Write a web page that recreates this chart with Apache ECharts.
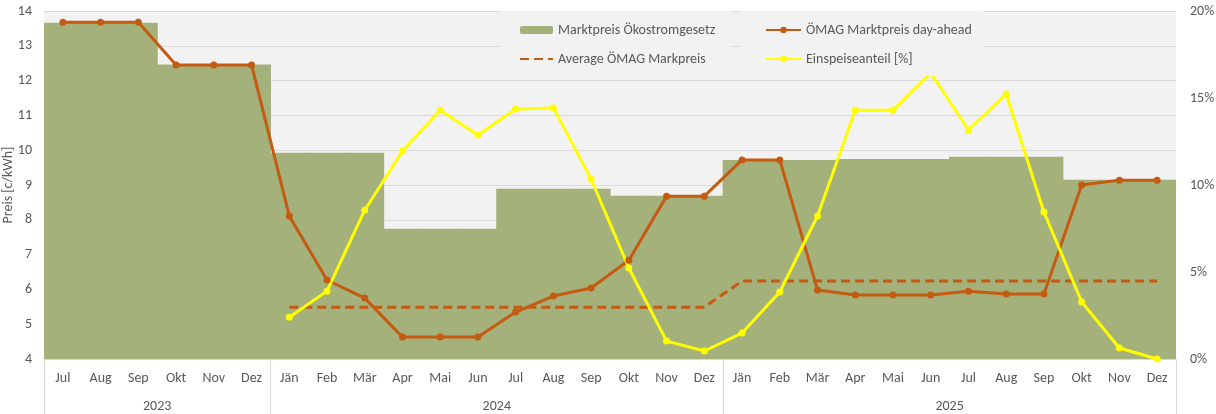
<!DOCTYPE html>
<html>
<head>
<meta charset="utf-8">
<script src="https://cdn.jsdelivr.net/npm/echarts@6/dist/echarts.min.js"></script>
<style>
    html, body {margin: 0; padding: 0; background: #fff;}
    #echarts {width: 1216px; height: 414px;}
</style>
</head>
<body>
<div id="echarts"></div>
<script>
// months Jul 2023 .. Dez 2025
var months = ['Jul','Aug','Sep','Okt','Nov','Dez',
    'Jän','Feb','Mär','Apr','Mai','Jun','Jul','Aug','Sep','Okt','Nov','Dez',
    'Jän','Feb','Mär','Apr','Mai','Jun','Jul','Aug','Sep','Okt','Nov','Dez'];
var years = ['2023', '2024', '2025'];
var yearMonths = [6, 12, 12];

// Marktpreis Ökostromgesetz (quartalsweise)
var marktpreisOeSG = [13.66, 13.66, 13.66, 12.46, 12.46, 12.46,
    9.93, 9.93, 9.93, 7.74, 7.74, 7.74, 8.89, 8.89, 8.89, 8.69, 8.69, 8.69,
    9.72, 9.72, 9.72, 9.75, 9.75, 9.75, 9.81, 9.81, 9.81, 9.15, 9.15, 9.15];

// ÖMAG Marktpreis day-ahead
var oemagDayAhead = [13.68, 13.68, 13.68, 12.45, 12.45, 12.45,
    8.11, 6.27, 5.75, 4.63, 4.63, 4.63, 5.35, 5.81, 6.04, 6.84, 8.68, 8.68,
    9.72, 9.72, 5.98, 5.84, 5.84, 5.84, 5.95, 5.87, 5.87, 9.0, 9.14, 9.14];

// Average ÖMAG Markpreis
var oemagAverage = ['-', '-', '-', '-', '-', '-',
    5.49, 5.49, 5.49, 5.49, 5.49, 5.49, 5.49, 5.49, 5.49, 5.49, 5.49, 5.49,
    6.24, 6.24, 6.24, 6.24, 6.24, 6.24, 6.24, 6.24, 6.24, 6.24, 6.24, 6.24];

// Einspeiseanteil [%]
var einspeiseanteil = ['-', '-', '-', '-', '-', '-',
    2.4, 3.9, 8.55, 11.95, 14.3, 12.87, 14.37, 14.43, 10.34, 5.23, 1.03, 0.46,
    1.49, 3.85, 8.22, 14.3, 14.3, 16.45, 13.16, 15.23, 8.45, 3.28, 0.63, 0];

var leftTicks = [4, 14, 1];
var rightTicks = [0, 20, 5];

// half-month slots for the year row: labels sit in the middle of each year
var halfSlots = [];
var yearLabelAt = {};
var yearBorderAt = {0: true};
var pos = 0;
for (var i = 0; i <= 60; i++) {
    halfSlots.push('h' + i);
}
years.forEach(function (y, k) {
    yearLabelAt[pos + yearMonths[k]] = y;
    pos += yearMonths[k] * 2;
    yearBorderAt[pos] = true;
});

var fontFam = 'Carlito, Calibri, "Open Sans", sans-serif';
var textGrey = '#595959';
var orange = '#C55A11';
var green = '#A4B17A';
var fs = 14;

var myChart = echarts.init(document.getElementById('echarts'));
var option = {
    backgroundColor: '#fff',
    textStyle: {fontFamily: fontFam, color: textGrey},
    animation: false,
    grid: {
        left: 44,
        right: 40,
        top: 11,
        bottom: 55,
        outerBoundsMode: 'none',
        containLabel: false,
        show: true,
        backgroundColor: '#F2F2F2',
        borderWidth: 0
    },
    legend: [
        {
            orient: 'vertical',
            left: 500,
            top: 11,
            padding: [12, 16, 10, 19],
            itemGap: 15,
            itemWidth: 33,
            itemHeight: 8,
            backgroundColor: '#F2F2F2',
            textStyle: {fontFamily: fontFam, fontSize: fs, color: textGrey},
            data: [
                'Marktpreis Ökostromgesetz',
                {name: 'Average ÖMAG Markpreis', itemStyle: {opacity: 0}}
            ]
        },
        {
            orient: 'vertical',
            left: 740,
            top: 11,
            padding: [12, 12, 10, 25],
            itemGap: 15,
            itemWidth: 35,
            itemHeight: 8,
            backgroundColor: '#F2F2F2',
            textStyle: {fontFamily: fontFam, fontSize: fs, color: textGrey},
            data: ['ÖMAG Marktpreis day-ahead', 'Einspeiseanteil [%]']
        }
    ],
    xAxis: [
        {
            type: 'category',
            data: months,
            boundaryGap: true,
            axisLine: {show: true, lineStyle: {color: '#D9D9D9', width: 1}},
            axisTick: {show: false},
            splitLine: {show: false},
            axisLabel: {color: textGrey, fontSize: fs, margin: 12, interval: 0}
        },
        {
            type: 'category',
            data: halfSlots,
            boundaryGap: false,
            position: 'bottom',
            axisLine: {show: false},
            splitLine: {show: false},
            axisTick: {
                show: true,
                length: 56,
                interval: function (index) { return !!yearBorderAt[index]; },
                lineStyle: {color: '#D9D9D9', width: 1}
            },
            axisLabel: {
                color: textGrey,
                fontSize: fs,
                margin: 40,
                interval: function (index) { return yearLabelAt[index] !== undefined; },
                formatter: function (v, index) { return yearLabelAt[index] || ''; }
            }
        }
    ],
    yAxis: [
        {
            type: 'value',
            min: leftTicks[0],
            max: leftTicks[1],
            interval: leftTicks[2],
            name: 'Preis [c/kWh]',
            nameLocation: 'middle',
            nameGap: 29,
            nameMoveOverlap: false,
            nameTextStyle: {color: textGrey, fontSize: fs, fontFamily: fontFam},
            axisLine: {show: false},
            axisTick: {show: false},
            axisLabel: {color: textGrey, fontSize: fs, margin: 12},
            splitLine: {lineStyle: {color: '#D9D9D9', width: 1}}
        },
        {
            type: 'value',
            min: rightTicks[0],
            max: rightTicks[1],
            interval: rightTicks[2],
            axisLine: {show: false},
            axisTick: {show: false},
            splitLine: {show: false},
            axisLabel: {color: textGrey, fontSize: fs, margin: 14, formatter: '{value}%'}
        }
    ],
    series: [
        {
            name: 'Marktpreis Ökostromgesetz',
            type: 'bar',
            barWidth: '103%',
            itemStyle: {color: green},
            data: marktpreisOeSG
        },
        {
            name: 'ÖMAG Marktpreis day-ahead',
            type: 'line',
            symbol: 'circle',
            symbolSize: 7,
            itemStyle: {color: orange},
            lineStyle: {color: orange, width: 3},
            data: oemagDayAhead
        },
        {
            name: 'Average ÖMAG Markpreis',
            type: 'line',
            symbol: 'none',
            itemStyle: {color: orange},
            lineStyle: {color: orange, width: 3, type: [9, 5]},
            data: oemagAverage
        },
        {
            name: 'Einspeiseanteil [%]',
            type: 'line',
            yAxisIndex: 1,
            symbol: 'circle',
            symbolSize: 7,
            itemStyle: {color: '#FFFF00'},
            lineStyle: {color: '#FFFF00', width: 3},
            data: einspeiseanteil
        }
    ]
};
myChart.setOption(option);
</script>
</body>
</html>
